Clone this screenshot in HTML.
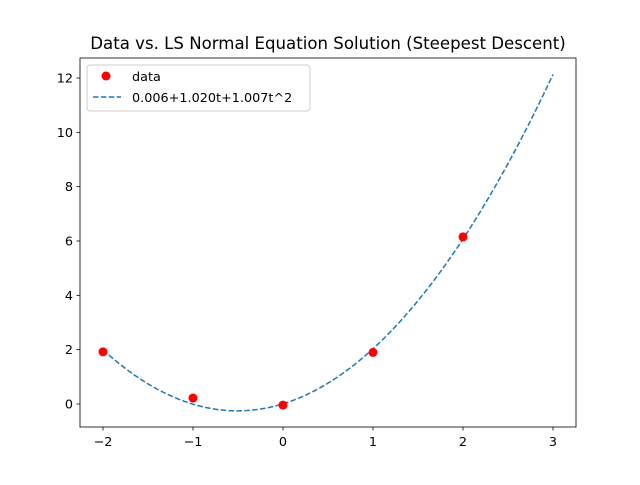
<!DOCTYPE html>
<html><head><meta charset="utf-8"><style>
body{margin:0;background:#fff;}
svg text{font-family:"DejaVu Sans","Liberation Sans",sans-serif;}
</style></head><body>
<svg id="chart" width="640" height="480" xmlns="http://www.w3.org/2000/svg">
<rect width="640" height="480" fill="#fff"/>
<text x="328" y="49" font-size="16.6" text-anchor="middle">Data vs. LS Normal Equation Solution (Steepest Descent)</text>
<g id="plot"></g>
<rect x="80" y="58" width="496" height="369" fill="none" stroke="#000" stroke-width="0.8"/>
<g>
<rect x="87" y="65" width="223" height="46" rx="3" fill="#fff" fill-opacity="0.8" stroke="#ccc"/>
<circle cx="106" cy="76" r="4.5" fill="red"/>
<text x="132" y="81" font-size="12.8">data</text>
<line x1="93" y1="97" x2="121" y2="97" stroke="#1f77b4" stroke-width="1.5" stroke-dasharray="5.5,2.4"/>
<text x="132" y="102" font-size="12.8">0.006+1.020t+1.007t^2</text>
</g>
</svg>
<script>
const dataT = [-2, -1, 0, 1, 2];
const dataY = [1.92, 0.22, -0.04, 1.9, 6.15];
const coeffs = [0.006, 1.020, 1.007];
const xTicks = [-2, -1, 0, 1, 2, 3];
const yTicks = [0, 2, 4, 6, 8, 10, 12];
const fitRange = [-2, 3];

const NS = "http://www.w3.org/2000/svg";
const xs = v => 103 + (v + 2) * 90;
const ys = v => 404 - v * 27.167;
const g = document.getElementById('plot');
function mk(tag, attrs){const e=document.createElementNS(NS,tag);for(const k in attrs)e.setAttribute(k,attrs[k]);g.appendChild(e);return e;}

xTicks.forEach(t=>{
  const l=mk('line',{x1:xs(t),x2:xs(t),y1:427,y2:430.5,stroke:'#000','stroke-width':0.8});
  
  
  const tx=mk('text',{x:xs(t),y:446,'font-size':12.8,'text-anchor':'middle'});
  tx.textContent=t<0?'\u2212'+Math.abs(t):String(t);
  
  
});
yTicks.forEach(t=>{
  const l=mk('line',{x1:76.5,x2:80,y1:ys(t),y2:ys(t),stroke:'#000','stroke-width':0.8});
  
  
  const tx=mk('text',{x:73,y:ys(t)+4.5,'font-size':12.8,'text-anchor':'end'});
  tx.textContent=String(t);
  
  
});
let pts=[];
for(let i=0;i<=100;i++){const t=fitRange[0]+(fitRange[1]-fitRange[0])*i/100;const y=coeffs[0]+coeffs[1]*t+coeffs[2]*t*t;pts.push(xs(t).toFixed(2)+','+ys(y).toFixed(2));}
const pl=mk('polyline',{points:pts.join(' '),fill:'none',stroke:'#1f77b4','stroke-width':1.5,'stroke-dasharray':'5.5,2.4'});


dataT.forEach((t,i)=>{
  const c=mk('circle',{cx:xs(t),cy:ys(dataY[i]),r:4.5,fill:'red'});
  
  
});
</script>
</body></html>
